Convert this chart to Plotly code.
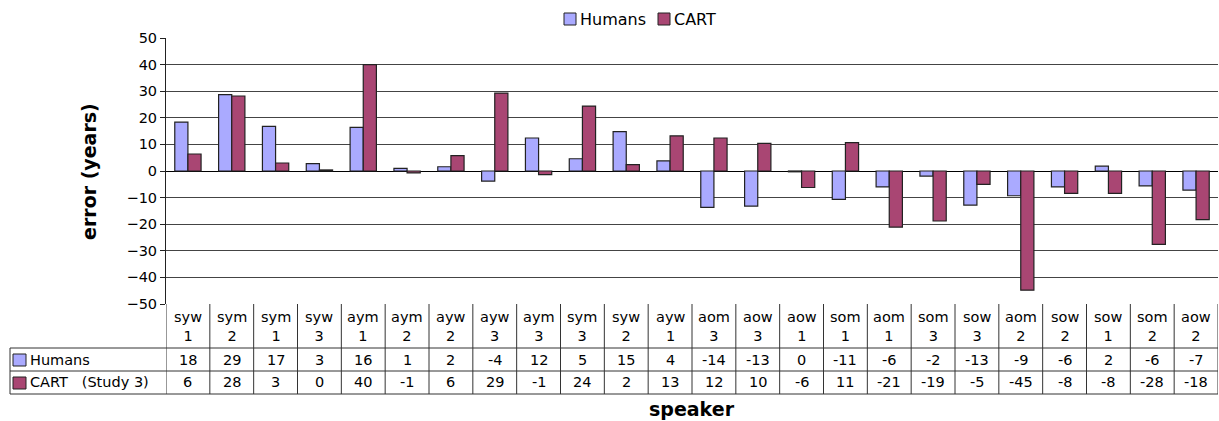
import plotly.graph_objects as go

# speakers in the order they appear on the x axis
speakers = ['syw 1', 'sym 2', 'sym 1', 'syw 3', 'aym 1', 'aym 2', 'ayw 2', 'ayw 3',
            'aym 3', 'sym 3', 'syw 2', 'ayw 1', 'aom 3', 'aow 3', 'aow 1', 'som 1',
            'aom 1', 'som 3', 'sow 3', 'aom 2', 'sow 2', 'sow 1', 'som 2', 'aow 2']

# error (years)
humans = [18.4, 28.7, 16.8, 2.8, 16.4, 1.0, 1.6, -3.8, 12.4, 4.6, 14.8, 3.8,
          -13.7, -13.2, -0.3, -10.7, -6.0, -1.9, -12.8, -9.3, -6.0, 1.8, -5.6, -7.2]
cart = [6.4, 28.2, 3.0, 0.4, 40.0, -0.7, 5.8, 29.3, -1.4, 24.4, 2.4, 13.2,
        12.4, 10.4, -6.2, 10.7, -21.1, -18.8, -5.0, -44.8, -8.4, -8.4, -27.6, -18.3]

# rounded values shown in the data table
humans_tbl = [18, 29, 17, 3, 16, 1, 2, -4, 12, 5, 15, 4, -14, -13, 0, -11, -6, -2, -13, -9, -6, 2, -6, -7]
cart_tbl = [6, 28, 3, 0, 40, -1, 6, 29, -1, 24, 2, 13, 12, 10, -6, 11, -21, -19, -5, -45, -8, -8, -28, -18]

y_ticks = [50, 40, 30, 20, 10, 0, -10, -20, -30, -40, -50]

HUM_COL = '#AAAAFF'
CART_COL = '#A94673'
FONT = 'DejaVu Sans'

# plot area in pixels
W, H = 1219, 421
L, R, T, B = 166, 1218, 38, 304


def px_x(px):
    return (px - L) / (R - L)


def px_y(py):
    return (B - py) / (B - T)


fig = go.Figure()
fig.add_trace(go.Bar(x=speakers, y=humans, name='Humans',
                     marker=dict(color=HUM_COL, line=dict(color='#222', width=1.2))))
fig.add_trace(go.Bar(x=speakers, y=cart, name='CART',
                     marker=dict(color=CART_COL, line=dict(color='#222', width=1.2))))

shapes = []
line = dict(color='#333', width=1)
# data table horizontal rules
for py in [348, 371, 394]:
    shapes.append(dict(type='line', xref='paper', yref='paper', x0=px_x(10), x1=1,
                       y0=px_y(py), y1=px_y(py), line=line))
shapes.append(dict(type='line', xref='paper', yref='paper', x0=px_x(10), x1=px_x(10),
                   y0=px_y(348), y1=px_y(394), line=line))
# column separators
for i in range(len(speakers) + 1):
    shapes.append(dict(type='line', xref='x', yref='paper', x0=i - 0.5, x1=i - 0.5,
                       y0=0, y1=px_y(394), line=line))
# legend keys in the table
shapes.append(dict(type='rect', xref='paper', yref='paper', x0=px_x(13), x1=px_x(26),
                   y0=px_y(366), y1=px_y(354), fillcolor=HUM_COL, line=dict(color='#222', width=1)))
shapes.append(dict(type='rect', xref='paper', yref='paper', x0=px_x(13), x1=px_x(26),
                   y0=px_y(389), y1=px_y(377), fillcolor=CART_COL, line=dict(color='#222', width=1)))
# top legend keys
shapes.append(dict(type='rect', xref='paper', yref='paper', x0=px_x(564), x1=px_x(576),
                   y0=px_y(25), y1=px_y(13), fillcolor=HUM_COL, line=dict(color='#222', width=1)))
shapes.append(dict(type='rect', xref='paper', yref='paper', x0=px_x(658), x1=px_x(670),
                   y0=px_y(25), y1=px_y(13), fillcolor=CART_COL, line=dict(color='#222', width=1)))

ann = []
tf = dict(family=FONT, size=14.5, color='black')
for i, s in enumerate(speakers):
    ann.append(dict(x=s, y=px_y(326), xref='x', yref='paper', text=s.replace(' ', '<br>'),
                    showarrow=False, font=tf, xanchor='center', yanchor='middle'))
    ann.append(dict(x=s, y=px_y(359.5), xref='x', yref='paper', text=str(humans_tbl[i]),
                    showarrow=False, font=tf, xanchor='center', yanchor='middle'))
    ann.append(dict(x=s, y=px_y(382.5), xref='x', yref='paper', text=str(cart_tbl[i]),
                    showarrow=False, font=tf, xanchor='center', yanchor='middle'))
ann.append(dict(x=px_x(28), y=px_y(359.5), xref='paper', yref='paper', text='Humans',
                showarrow=False, font=tf, xanchor='left', yanchor='middle'))
ann.append(dict(x=px_x(28), y=px_y(382.5), xref='paper', yref='paper', text='CART&nbsp;&nbsp;&nbsp;(Study 3)',
                showarrow=False, font=tf, xanchor='left', yanchor='middle'))
# top legend labels
lf = dict(family=FONT, size=16, color='black')
ann.append(dict(x=px_x(578), y=px_y(19), xref='paper', yref='paper', text='Humans',
                showarrow=False, font=lf, xanchor='left', yanchor='middle'))
ann.append(dict(x=px_x(672), y=px_y(19), xref='paper', yref='paper', text='CART',
                showarrow=False, font=lf, xanchor='left', yanchor='middle'))
# axis titles
ann.append(dict(x=px_x(692), y=px_y(409), xref='paper', yref='paper', text='<b>speaker</b>',
                showarrow=False, font=dict(family=FONT, size=19, color='black'),
                xanchor='center', yanchor='middle'))
ann.append(dict(x=px_x(89), y=px_y(172), xref='paper', yref='paper', text='<b>error (years)</b>',
                showarrow=False, textangle=-90, font=dict(family=FONT, size=19, color='black'),
                xanchor='center', yanchor='middle'))

fig.update_layout(
    width=W, height=H,
    margin=dict(l=L, r=W - R, t=T, b=H - B),
    plot_bgcolor='white', paper_bgcolor='white',
    barmode='group', bargap=0.4, bargroupgap=0,
    font=dict(family=FONT, size=14, color='black'),
    showlegend=False,
    shapes=shapes,
    annotations=ann,
)
fig.update_xaxes(range=[-0.5, len(speakers) - 0.5], showticklabels=False, showgrid=False,
                 zeroline=False, showline=False)
fig.update_yaxes(range=[-50, 50], tickvals=y_ticks, showgrid=True, gridcolor='#444', gridwidth=1,
                 zeroline=True, zerolinecolor='black', zerolinewidth=1,
                 showline=True, linecolor='#222', linewidth=1,
                 ticks='outside', ticklen=5, tickcolor='#222',
                 tickfont=dict(family=FONT, size=14.5, color='black'))

fig.write_html('out.html', config={'displayModeBar': False},
               post_script="document.body.style.margin='0px';")
